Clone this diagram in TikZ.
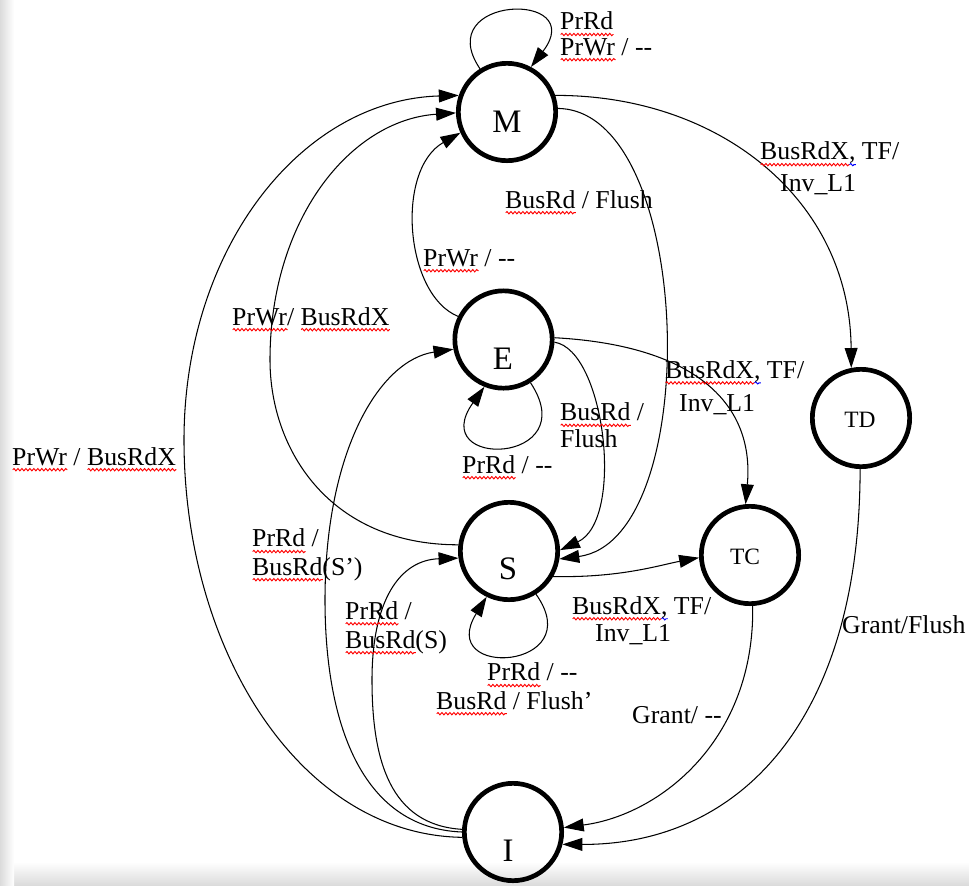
\documentclass[tikz,border=0pt]{standalone}
\usepackage{fontspec}
\setmainfont{Liberation Serif}
\usetikzlibrary{arrows.meta,decorations.pathmorphing}
\newsavebox\wvbox
\newcommand\wv[2]{\sbox\wvbox{#2}\leavevmode\rlap{\tikz[baseline=0pt]\draw[#1,line width=0.8pt,decorate,decoration={snake,amplitude=1pt,segment length=3.4pt}] (0pt,-4pt) -- (\the\wd\wvbox,-4pt);}\usebox\wvbox}
\newcommand\rw[1]{\wv{red}{#1}}
\newcommand\bw[1]{\wv{blue}{#1}}
\begin{document}
\begin{tikzpicture}[x=0.03cm,y=-0.03cm,
  st/.style={circle,draw,line width=4pt,minimum size=2.92cm,inner sep=0pt},
  big/.style={font=\fontsize{28}{30}\selectfont,inner sep=0pt},
  mid/.style={font=\fontsize{20}{22}\selectfont,inner sep=0pt},
  lbl/.style={font=\fontsize{22}{25}\selectfont,inner sep=0pt,align=left,anchor=base west},
  tr/.style={line width=0.9pt,-{Triangle[length=17pt,width=11pt]}},
]
\useasboundingbox (0,0) rectangle (969,885);
\shade[top color=white,bottom color=black!14] (0,862) rectangle (969,885);
\shade[left color=black!14,right color=white] (0,0) rectangle (14,885);

% states
\node[st] (M) at (507,112) {};
\node[st] (E) at (503.5,339.5) {};
\node[st] (S) at (509,551) {};
\node[st] (TC) at (750,555) {};
\node[st] (TD) at (861,418) {};
\node[st] (I) at (513,832) {};
\node[big] (Mt) at (507,122) {M};
\node[big] (Et) at (503,359) {E};
\node[big] (St) at (508,569) {S};
\node[big] (It) at (508,851) {I};
\node[mid] (TCt) at (745,557) {TC};
\node[mid] (TDt) at (860,420) {TD};

% transitions
\draw[tr] (M.122) .. controls (430,-5) and (590,-10) .. (M.62);
\draw[tr] (M.19) .. controls (720,95) and (850,200) .. (TD.101);
\draw[tr] (M.4) .. controls (695,110) and (705,540) .. (S.-9);
\draw[tr] (E.153) .. controls (405,295) and (395,170) .. (M.204);
\draw[tr] (E.-58) .. controls (585,465) and (425,470) .. (E.-112);
\draw[tr] (E.2) .. controls (690,345) and (755,400) .. (TC.95);
\draw[tr] (E.-3) .. controls (605,350) and (625,520) .. (S.1);
\draw[tr] (S.173) .. controls (330,545) and (270,450) .. (270,360) .. controls (270,220) and (350,120) .. (M.181);
\draw[tr] (S.-58) .. controls (590,670) and (435,680) .. (S.-116);
\draw[tr] (S.-30) .. controls (620,578) and (660,565) .. (TC.183);
\draw[tr] (TD.-91) .. controls (860,720) and (740,845) .. (I.-14);
\draw[tr] (TC.-87) .. controls (755,740) and (660,815) .. (I.5);
\draw[tr] (I.186) .. controls (300,835) and (184,650) .. (184,440) .. controls (184,250) and (300,100) .. (M.161);
\draw[tr] (I.180) .. controls (360,828) and (325,720) .. (325,600) .. controls (325,450) and (380,360) .. (E.191);
\draw[tr] (I.177) .. controls (390,825) and (372,760) .. (372,680) .. controls (372,600) and (400,560) .. (S.188);

% labels (base anchor = baseline of the last line)
\node[lbl,font=\fontsize{22}{21.5}\selectfont] (lM) at (560,55) {\rw{PrRd}\\\rw{PrWr} / -{}-};
\node[lbl,font=\fontsize{22}{26.5}\selectfont] (lTD) at (760,191) {\rw{BusRdX}\bw{,} TF/\\\hspace*{0.6cm}Inv\_L1};
\node[lbl] (lMS) at (505,208) {\rw{BusRd} / Flush};
\node[lbl] (lEM) at (423,266) {\rw{PrWr} / -{}-};
\node[lbl] (lSM) at (232,325) {\rw{PrWr}/ \rw{BusRdX}};
\node[lbl,font=\fontsize{22}{28}\selectfont] (lETC) at (665,411) {\rw{BusRdX}\bw{,} TF/\\\hspace*{0.42cm}Inv\_L1};
\node[lbl,font=\fontsize{22}{22.5}\selectfont] (lES) at (560,447) {\rw{BusRd} /\\Flush};
\node[lbl] (lEL) at (462,473) {\rw{PrRd} / -{}-};
\node[lbl] (lIM) at (12,465) {\rw{PrWr} / \rw{BusRdX}};
\node[lbl,font=\fontsize{22}{24}\selectfont] (lIE) at (252,575) {\rw{PrRd} /\\\rw{BusRd}(S')};
\node[lbl,font=\fontsize{22}{24.7}\selectfont] (lIS) at (345,648) {\rw{PrRd} /\\\rw{BusRd}(S)};
\node[lbl,font=\fontsize{22}{24}\selectfont] (lSL) at (436,709) {\hspace*{1.53cm}\rw{PrRd} / -{}-\\\rw{BusRd} / Flush'};
\node[lbl,font=\fontsize{22}{23}\selectfont] (lSTC) at (572,641) {\rw{BusRdX}\bw{,} TF/\\\hspace*{0.69cm}Inv\_L1};
\node[lbl] (lTCI) at (632,723) {Grant/ -{}-};
\node[lbl] (lTDI) at (842,633) {Grant/Flush};
\end{tikzpicture}
\end{document}
